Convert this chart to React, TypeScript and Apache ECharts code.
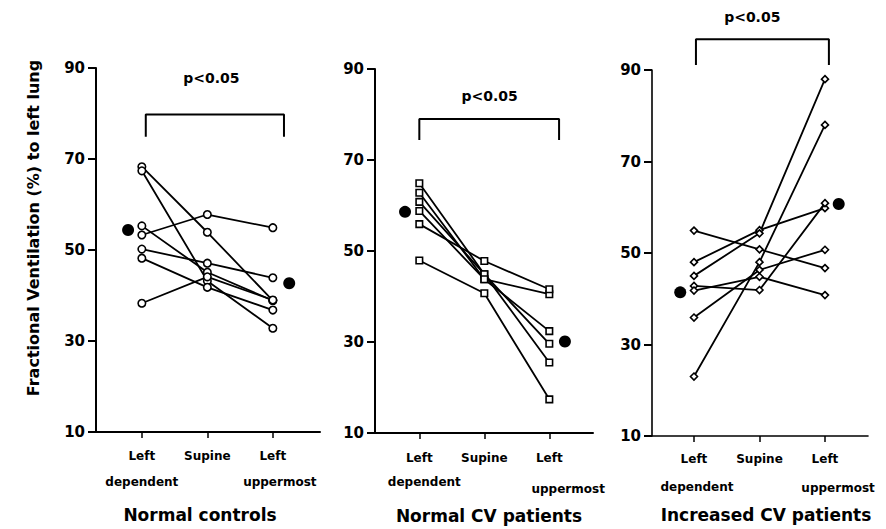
import React, { useEffect, useRef } from "react";
import * as echarts from "echarts";

// ---- data ----
const topLabels = ["Left", "Supine", "Left"];
const bottomLabels = ["dependent", "uppermost"];
const panelTitles = ["Normal controls", "Normal CV patients", "Increased CV patients"];
const yTitle = "Fractional Ventilation (%) to left lung";
const pText = "p<0.05";

// each row: [Left dependent, Supine, Left uppermost]
const normalControls = [
  [68.3, 53.9, 38.9],
  [67.4, 43.2, 32.8],
  [55.3, 45.1, 38.9],
  [53.3, 57.8, 54.9],
  [50.2, 47.1, 43.9],
  [48.2, 41.8, 36.8],
  [38.3, 44.1, 39.0],
];
const normalCV = [
  [64.9, 44.9, 25.5],
  [62.8, 43.8, 32.4],
  [60.8, 44.9, 29.6],
  [58.8, 43.8, 40.5],
  [55.9, 47.8, 41.6],
  [47.9, 40.7, 17.4],
];
const increasedCV = [
  [54.9, 50.8, 46.7],
  [48.0, 55.0, 59.8],
  [45.0, 54.3, 88.0],
  [42.8, 41.9, 60.9],
  [41.8, 44.8, 40.8],
  [35.9, 46.3, 50.7],
  [23.0, 48.0, 78.0],
];
// group means [Left dependent, Left uppermost]
const meansControls = [54.4, 42.7];
const meansNormalCV = [58.6, 30.1];
const meansIncreasedCV = [41.4, 60.7];

const yTicks = { min: 10, max: 90, interval: 20 };

const FONT = "DejaVu Sans";

const panels = [
  {
    subjects: normalControls,
    means: meansControls,
    symbol: "circle",
    symbolSize: 7.5,
    grid: { left: 96, top: 68, width: 224, height: 364 },
    xMin: 0.3,
    xMax: 3.72,
    meanOff: [-0.21, 0.25],
    bracket: { x1: 1.06, x2: 3.17, low: 74.9, high: 79.8, tx: 2.06, ty: 87.8 },
    labelMargin: 18,
    subMargin: 44,
    subPos: [1.0, 3.107],
    upPad: 0,
    title: { x: 200, y: 515 },
    axisW: 2,
  },
  {
    subjects: normalCV,
    means: meansNormalCV,
    symbol: "rect",
    symbolSize: 6.5,
    grid: { left: 375, top: 69, width: 218, height: 364 },
    xMin: 0.318,
    xMax: 3.672,
    meanOff: [-0.22, 0.24],
    bracket: { x1: 1.0, x2: 3.15, low: 74.4, high: 79.0, tx: 2.08, ty: 84.1 },
    labelMargin: 19,
    subMargin: 43,
    subPos: [1.077, 3.29],
    upPad: 7,
    title: { x: 489, y: 516 },
    axisW: 2,
  },
  {
    subjects: increasedCV,
    means: meansIncreasedCV,
    symbol: "diamond",
    symbolSize: 7,
    grid: { left: 652, top: 70, width: 216, height: 366 },
    xMin: 0.359,
    xMax: 3.657,
    meanOff: [-0.21, 0.21],
    bracket: { x1: 1.03, x2: 3.06, low: 91.1, high: 96.7, tx: 1.89, ty: 101.6 },
    labelMargin: 17,
    subMargin: 45,
    subPos: [1.046, 3.2],
    upPad: 1,
    title: { x: 766, y: 515 },
    axisW: 1.6,
  },
];

function buildOption() {
  const grid: any[] = [];
  const xAxis: any[] = [];
  const yAxis: any[] = [];
  const series: any[] = [];
  const graphic: any[] = [];

  panels.forEach((p, i) => {
    grid.push({ ...p.grid, containLabel: false });
    // main x axis
    xAxis.push({
      gridIndex: i,
      type: "value",
      min: p.xMin,
      max: p.xMax,
      splitLine: { show: false },
      axisLine: { show: true, onZero: false, lineStyle: { color: "#000", width: p.axisW } },
      axisTick: { show: true, customValues: [1, 2, 3], length: 6, lineStyle: { color: "#000", width: 1.5 } },
      axisLabel: {
        customValues: [1, 2, 3],
        formatter: (v: number) => topLabels[Math.round(v) - 1],
        margin: p.labelMargin,
        color: "#000",
        fontFamily: FONT,
        fontWeight: "bold",
        fontSize: 12,
      },
    });
    // second-line labels
    xAxis.push({
      gridIndex: i,
      type: "value",
      position: "bottom",
      min: p.xMin,
      max: p.xMax,
      splitLine: { show: false },
      axisLine: { show: false },
      axisTick: { show: false },
      axisLabel: {
        customValues: p.subPos,
        formatter: (v: number) => (v < 2 ? "{d|" + bottomLabels[0] + "}" : "{u|" + bottomLabels[1] + "}"),
        margin: p.subMargin,
        color: "#000",
        fontFamily: FONT,
        fontWeight: "bold",
        fontSize: 12,
        rich: {
          d: { color: "#000", fontFamily: FONT, fontWeight: "bold", fontSize: 12 },
          u: { color: "#000", fontFamily: FONT, fontWeight: "bold", fontSize: 12, padding: [p.upPad, 0, 0, 0] },
        },
      },
    });
    yAxis.push({
      gridIndex: i,
      type: "value",
      min: yTicks.min,
      max: yTicks.max,
      interval: yTicks.interval,
      splitLine: { show: false },
      axisLine: { show: true, lineStyle: { color: "#000", width: p.axisW } },
      axisTick: { show: true, length: 8, lineStyle: { color: "#000", width: 2 } },
      axisLabel: {
        margin: 11,
        color: "#000",
        fontFamily: FONT,
        fontWeight: "bold",
        fontSize: 15,
      },
    });

    const xi = 2 * i;
    p.subjects.forEach((row) => {
      series.push({
        type: "line",
        xAxisIndex: xi,
        yAxisIndex: i,
        data: row.map((v, k) => [k + 1, v]),
        symbol: p.symbol,
        symbolSize: p.symbolSize,
        showAllSymbol: true,
        lineStyle: { color: "#000", width: 1.8 },
        itemStyle: { color: "#fff", borderColor: "#000", borderWidth: 1.6 },
        emphasis: { disabled: true },
        silent: true,
        z: 3,
      });
    });
    series.push({
      type: "scatter",
      xAxisIndex: xi,
      yAxisIndex: i,
      data: [
        [1 + p.meanOff[0], p.means[0]],
        [3 + p.meanOff[1], p.means[1]],
      ],
      symbol: "circle",
      symbolSize: 12,
      itemStyle: { color: "#000", opacity: 1 },
      emphasis: { disabled: true },
      silent: true,
      z: 4,
    });
    const b = p.bracket;
    series.push({
      type: "line",
      xAxisIndex: xi,
      yAxisIndex: i,
      clip: false,
      data: [
        [b.x1, b.low],
        [b.x1, b.high],
        [b.x2, b.high],
        [b.x2, b.low],
      ],
      symbol: "none",
      lineStyle: { color: "#000", width: 2 },
      emphasis: { disabled: true },
      silent: true,
      z: 2,
    });
    series.push({
      type: "scatter",
      xAxisIndex: xi,
      yAxisIndex: i,
      clip: false,
      data: [[b.tx, b.ty]],
      symbolSize: 0,
      itemStyle: { color: "#000", opacity: 1 },
      label: {
        show: true,
        position: "inside",
        formatter: pText,
        color: "#000",
        opacity: 1,
        fontFamily: FONT,
        fontWeight: "bold",
        fontSize: 14,
      },
      emphasis: { disabled: true },
      silent: true,
    });

    graphic.push({
      type: "text",
      x: p.title.x,
      y: p.title.y,
      style: {
        text: panelTitles[i],
        fill: "#000",
        font: "bold 17px " + FONT,
        align: "center",
        verticalAlign: "middle",
      },
    });
  });

  graphic.push({
    type: "text",
    x: 33,
    y: 228,
    rotation: Math.PI / 2,
    style: {
      text: yTitle,
      fill: "#000",
      font: "bold 16px " + FONT,
      align: "center",
      verticalAlign: "middle",
    },
  });

  return {
    animation: false,
    backgroundColor: "#fff",
    textStyle: { fontFamily: FONT },
    grid,
    xAxis,
    yAxis,
    series,
    graphic,
  };
}

export default function App() {
  const ref = useRef<HTMLDivElement>(null);
  useEffect(() => {
    const chart = echarts.init(ref.current!, null, { renderer: "svg", width: 886, height: 529 });
    chart.setOption(buildOption() as any);
    return () => chart.dispose();
  }, []);
  return (
    <div
      ref={ref}
      style={{ position: "fixed", left: 0, top: 0, width: 886, height: 529, background: "#fff" }}
    />
  );
}
